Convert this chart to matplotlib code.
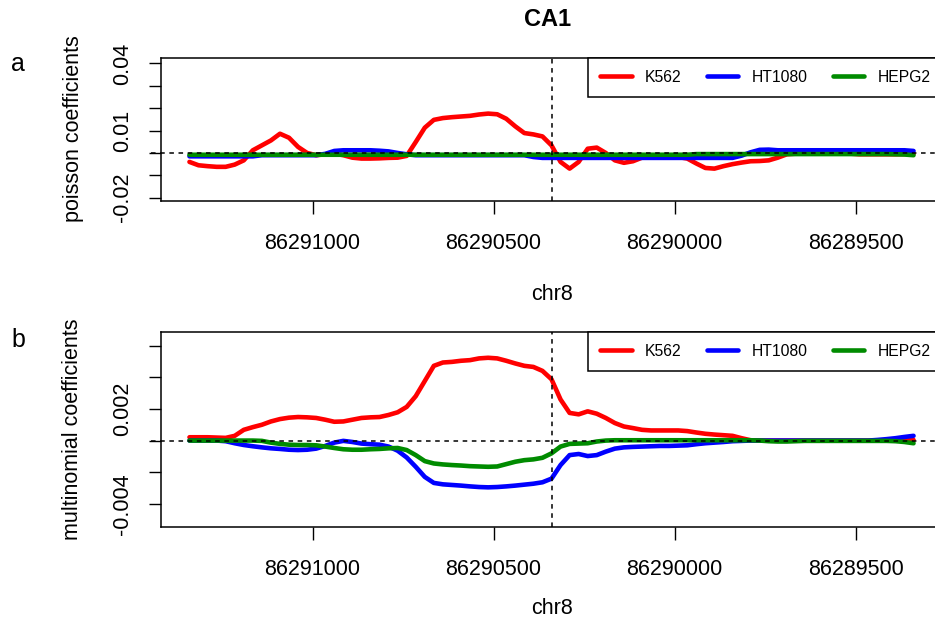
import matplotlib
matplotlib.use("Agg")
import matplotlib.pyplot as plt
import numpy as np

plt.rcParams['font.family'] = ['Liberation Sans', 'DejaVu Sans']

# ---- data ----
chrom = "chr8"
gene = "CA1"
tss = 86290340
positions = np.arange(86291340, 86289339, -25)
series_names = ["K562", "HT1080", "HEPG2"]

k562_pois = [
    -0.0040, -0.0055, -0.0059, -0.0062, -0.0062, -0.0052, -0.0033, 0.0012, 0.0034, 0.0056,
    0.0086, 0.0068, 0.0027, 0.0000, -0.0010, -0.0006, -0.0003, -0.0010, -0.0021, -0.0025,
    -0.0025, -0.0024, -0.0022, -0.0021, -0.0013, 0.0049, 0.0113, 0.0148, 0.0156, 0.0160,
    0.0163, 0.0166, 0.0172, 0.0176, 0.0173, 0.0153, 0.0119, 0.0089, 0.0083, 0.0074,
    0.0034, -0.0040, -0.0070, -0.0040, 0.0019, 0.0024, 0.0000, -0.0033, -0.0044, -0.0037,
    -0.0021, -0.0015, -0.0015, -0.0015, -0.0018, -0.0025, -0.0047, -0.0067, -0.0070, -0.0059,
    -0.0050, -0.0043, -0.0037, -0.0036, -0.0033, -0.0021, -0.0006, -0.0003, -0.0003, -0.0003,
    -0.0003, -0.0003, -0.0003, -0.0003, -0.0006, -0.0006, -0.0006, -0.0006, -0.0006, -0.0005,
    -0.0003]
ht1080_pois = [
    -0.0015, -0.0015, -0.0015, -0.0015, -0.0015, -0.0015, -0.0015, -0.0015, -0.0010, -0.0010,
    -0.0010, -0.0010, -0.0010, -0.0010, -0.0010, -0.0004, 0.0009, 0.0012, 0.0012, 0.0012,
    0.0012, 0.0010, 0.0007, 0.0000, -0.0006, -0.0010, -0.0010, -0.0010, -0.0010, -0.0010,
    -0.0010, -0.0010, -0.0010, -0.0010, -0.0010, -0.0010, -0.0010, -0.0010, -0.0018, -0.0022,
    -0.0022, -0.0022, -0.0022, -0.0022, -0.0022, -0.0022, -0.0022, -0.0022, -0.0022, -0.0022,
    -0.0022, -0.0022, -0.0022, -0.0022, -0.0022, -0.0022, -0.0022, -0.0022, -0.0022, -0.0022,
    -0.0022, -0.0012, 0.0003, 0.0014, 0.0015, 0.0012, 0.0012, 0.0012, 0.0012, 0.0012,
    0.0012, 0.0012, 0.0012, 0.0012, 0.0012, 0.0012, 0.0012, 0.0012, 0.0012, 0.0012,
    0.0009]
hepg2_pois = [
    -0.0008, -0.0008, -0.0008, -0.0008, -0.0008, -0.0008, -0.0008, -0.0008, -0.0008, -0.0008,
    -0.0008, -0.0008, -0.0008, -0.0008, -0.0008, -0.0008, -0.0008, -0.0008, -0.0008, -0.0008,
    -0.0008, -0.0008, -0.0008, -0.0008, -0.0008, -0.0008, -0.0008, -0.0008, -0.0008, -0.0008,
    -0.0008, -0.0008, -0.0008, -0.0008, -0.0008, -0.0008, -0.0008, -0.0008, -0.0008, -0.0008,
    -0.0008, -0.0008, -0.0008, -0.0008, -0.0008, -0.0008, -0.0008, -0.0008, -0.0008, -0.0008,
    -0.0008, -0.0008, -0.0008, -0.0008, -0.0008, -0.0008, -0.0005, -0.0005, -0.0005, -0.0005,
    -0.0005, -0.0005, -0.0005, -0.0005, -0.0005, -0.0005, -0.0005, -0.0005, -0.0005, -0.0005,
    -0.0005, -0.0005, -0.0005, -0.0005, -0.0005, -0.0005, -0.0005, -0.0005, -0.0006, -0.0007,
    -0.0010]

k562_mult = [
    0.00021, 0.00021, 0.00021, 0.00019, 0.00017, 0.00030, 0.00068, 0.00085, 0.00100, 0.00121,
    0.00136, 0.00145, 0.00149, 0.00147, 0.00143, 0.00132, 0.00119, 0.00121, 0.00132, 0.00143,
    0.00147, 0.00149, 0.00162, 0.00179, 0.00213, 0.00281, 0.00377, 0.00473, 0.00494, 0.00498,
    0.00505, 0.00509, 0.00520, 0.00524, 0.00520, 0.00505, 0.00488, 0.00473, 0.00466, 0.00441,
    0.00388, 0.00260, 0.00175, 0.00166, 0.00185, 0.00170, 0.00143, 0.00111, 0.00089, 0.00079,
    0.00068, 0.00064, 0.00064, 0.00064, 0.00064, 0.00060, 0.00051, 0.00043, 0.00038, 0.00034,
    0.00030, 0.00015, 0.00002, 0.0, 0.0, 0.0, 0.0, 0.0, 0.0, 0.0,
    0.0, 0.0, 0.0, 0.0, 0.0, 0.0, 0.0, 0.0, 0.0, 0.0,
    0.00004]
ht1080_mult = [
    0.0, 0.0, 0.0, 0.0, -0.00004, -0.00017, -0.00028, -0.00036, -0.00043, -0.00049,
    -0.00053, -0.00058, -0.00060, -0.00058, -0.00051, -0.00034, -0.00013, -0.00002, -0.00009, -0.00019,
    -0.00023, -0.00026, -0.00038, -0.00064, -0.00107, -0.00166, -0.00230, -0.00268, -0.00277, -0.00281,
    -0.00285, -0.00290, -0.00294, -0.00296, -0.00294, -0.00290, -0.00285, -0.00279, -0.00273, -0.00264,
    -0.00241, -0.00155, -0.00092, -0.00085, -0.00098, -0.00092, -0.00070, -0.00051, -0.00043, -0.00040,
    -0.00038, -0.00036, -0.00034, -0.00034, -0.00032, -0.00030, -0.00023, -0.00017, -0.00013, -0.00009,
    -0.00004, -0.00002, 0.0, 0.0, 0.0, 0.0, 0.0, 0.0, 0.0, 0.0,
    0.0, 0.0, 0.0, 0.0, 0.0, 0.0, 0.00004, 0.00009, 0.00015, 0.00023,
    0.00030]
hepg2_mult = [
    0.0, 0.0, 0.0, 0.0, 0.0, 0.0, 0.0, 0.0, -0.00002, -0.00013,
    -0.00021, -0.00026, -0.00028, -0.00028, -0.00030, -0.00038, -0.00047, -0.00055, -0.00058, -0.00058,
    -0.00055, -0.00053, -0.00049, -0.00047, -0.00060, -0.00092, -0.00130, -0.00145, -0.00151, -0.00155,
    -0.00158, -0.00162, -0.00164, -0.00166, -0.00164, -0.00149, -0.00134, -0.00124, -0.00119, -0.00109,
    -0.00081, -0.00038, -0.00021, -0.00019, -0.00017, -0.00006, 0.0, 0.00002, 0.00002, 0.00002,
    0.00002, 0.00002, 0.00002, 0.00002, 0.00002, 0.00002, 0.00002, 0.00002, 0.00002, 0.00002,
    0.00002, 0.00002, 0.00002, 0.0, -0.00004, -0.00006, -0.00006, -0.00004, -0.00002, -0.00002,
    -0.00002, -0.00002, -0.00002, -0.00002, -0.00002, -0.00002, -0.00002, -0.00002, -0.00004, -0.00009,
    -0.00017]

xticks = [86291000, 86290500, 86290000, 86289500]
pois_ticks = [-0.02, -0.01, 0.0, 0.01, 0.02, 0.03, 0.04]
pois_ticklabels = ["-0.02", "", "", "0.01", "", "", "0.04"]
mult_ticks = [-0.004, -0.002, 0.0, 0.002, 0.004, 0.006]
mult_ticklabels = ["-0.004", "", "", "0.002", "", ""]

colors = ["#FF0000", "#0000FF", "#008B00"]

# ---- figure ----
W, H = 935, 632
fig = plt.figure(figsize=(W / 100, H / 100), dpi=100)

def rect(left, top, right, bottom):
    return [left / W, 1 - bottom / H, (right - left) / W, (bottom - top) / H]

xlim = (86291420, 86289260)
fs = 15.5

def setup(ax, series, ylim, ticks, ticklabels, ylabel, letter, label_y, xlab_y):
    for vals, c, name in zip(series, colors, series_names):
        ax.plot(positions, vals, color=c, lw=3.3, label=name,
                solid_capstyle='round', solid_joinstyle='round', zorder=3)
    ax.set_xlim(*xlim)
    ax.set_ylim(*ylim)
    ax.axhline(0, xmin=-10 / 782, xmax=1.02, color='black', lw=1.1,
               linestyle=(0, (3, 3)), clip_on=False, zorder=5)
    ax.axvline(tss, color='black', lw=1.1, linestyle=(0, (3, 3)), zorder=5)
    ax.set_xticks(xticks)
    ax.set_xticklabels([str(t) for t in xticks], fontsize=fs)
    ax.set_yticks(ticks)
    ax.set_yticklabels(ticklabels, fontsize=fs, rotation=90, va='center')
    ax.tick_params(axis='both', length=9, width=1, color='black')
    ax.tick_params(axis='x', pad=14)
    ax.tick_params(axis='y', pad=11)
    for s in ax.spines.values():
        s.set_linewidth(1.1)
    leg = ax.legend(loc='upper right', bbox_to_anchor=(1.0, 1.0), ncol=3, fontsize=11.3,
                    frameon=True, fancybox=False, edgecolor='black', framealpha=1,
                    borderaxespad=0, borderpad=0.78, handlelength=2.0, handletextpad=0.85,
                    columnspacing=1.6)
    leg.get_frame().set_linewidth(1.1)
    for l in leg.get_lines():
        l.set_linewidth(3.3)
    fig.text(73 / W, 1 - label_y / H, ylabel, rotation=90, ha='center', va='center', fontsize=fs)
    fig.text(18 / W, 1 - letter[1] / H, letter[0], ha='center', va='center', fontsize=18)
    fig.text(552 / W, 1 - xlab_y / H, chrom, ha='center', va='center', fontsize=fs)

ax1 = fig.add_axes(rect(160.5, 57.5, 942.5, 200.7))
setup(ax1, [k562_pois, ht1080_pois, hepg2_pois], (-0.02134, 0.04268), pois_ticks, pois_ticklabels,
      "poisson coefficients", ("a", 64), 129, 294)

ax2 = fig.add_axes(rect(160.5, 331.7, 942.5, 527))
setup(ax2, [k562_mult, ht1080_mult, hepg2_mult], (-0.00547, 0.00689), mult_ticks, mult_ticklabels,
      "multinomial coefficients", ("b", 340), 429, 608)

fig.text(548 / W, 1 - 20 / H, gene, ha='center', va='center', fontsize=17, fontweight='bold')

fig.savefig("out.png", dpi=100)
